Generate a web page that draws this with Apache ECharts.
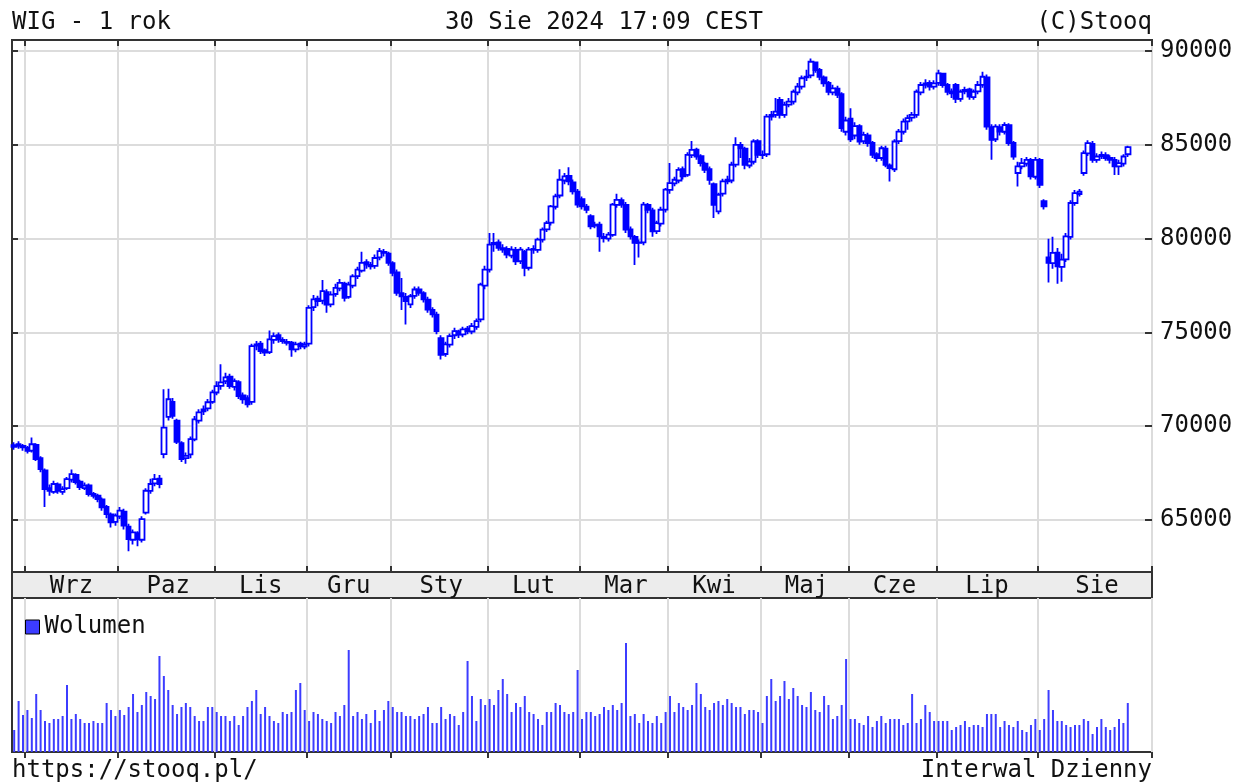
<!DOCTYPE html>
<html>
<head>
<meta charset="utf-8">
<script src="https://cdn.jsdelivr.net/npm/echarts@6/dist/echarts.min.js"></script>
<style>html,body{margin:0;padding:0;background:#fff;}</style>
</head>
<body>
<div id="main" style="width:1249px;height:783px;"></div>
<script>
// WIG - 1 rok, swiece dzienne + wolumen
var monthNames = ['Sty','Lut','Mar','Kwi','Maj','Cze','Lip','Sie','Wrz','Paz','Lis','Gru'];
var holidays = ['2023-11-01','2023-12-25','2023-12-26','2024-01-01','2024-03-29',
  '2024-04-01','2024-05-01','2024-05-03','2024-05-30','2024-08-15'];
var priceTicks = [65000, 70000, 75000, 80000, 85000, 90000];

var opens = [
  68900,69050,68950,68850,68700,69000,68300,67650,66700,66500,
  66900,66500,66700,67150,67400,67050,66700,66850,66400,66300,
  66100,65700,65300,64900,65200,65450,64650,63950,64300,63950,
  65400,66550,66950,67200,68510,70500,71300,70300,69100,68300,
  68500,69300,70300,70800,70950,71300,71800,72150,72400,72650,
  72100,72350,71650,71500,71300,74300,74400,74050,73950,74600,
  74850,74600,74500,74450,74100,74400,74250,74400,76350,76800,
  76700,77150,76500,77050,77350,77600,76900,77500,78000,78300,
  78750,78600,78550,79000,79300,79200,78700,78200,77100,76900,
  76500,76950,77300,77100,76750,76200,75950,74700,73850,74350,
  74850,75050,74900,75200,75050,75300,75700,77500,78350,79700,
  79800,79500,79450,79100,79400,78800,79300,78450,79450,79400,
  79950,80500,80850,81700,82300,83100,83350,83000,82500,82100,
  81700,81200,80700,80750,80100,80000,80200,81800,82050,81800,
  80500,80100,79800,79800,81800,81500,80400,80800,81550,82600,
  82950,83100,83700,83400,84450,84750,84400,84000,83700,82900,
  81450,82400,83050,83100,83950,85000,84800,83900,84100,85200,
  84450,84500,86500,86600,87400,86600,87150,87300,87800,88100,
  88600,88700,89400,89000,88600,88300,87800,88000,87700,85700,
  86400,85500,86000,85200,85500,85100,84500,84300,84800,83900,
  83700,85200,85700,86250,86450,86600,87800,88200,88300,88100,
  88300,88800,88200,87850,88200,87450,87850,87950,87550,87850,
  88200,88600,85950,85300,85950,85700,86050,85100,83500,83850,
  84000,84200,83300,84200,82000,79000,78700,79250,78500,78900,
  80100,81900,82380,83500,84550,85050,84200,84400,84450,84300,
  84200,83850,84000,84500
];
var closes = [
  68990,68950,68880,68690,69040,68250,67710,66650,66560,66920,
  66560,66650,67180,67450,67020,66750,66830,66380,66290,66120,
  65680,65320,64880,65230,65500,64700,63990,64340,63990,65050,
  66560,66920,67180,66920,69930,71440,70550,69170,68250,68420,
  69310,70370,70740,70900,71280,71810,72140,72340,72610,72140,
  72410,71610,71440,71170,74270,74360,74000,73930,74630,74800,
  74630,74540,74450,74100,74360,74270,74360,76310,76760,76670,
  77200,76490,77020,77380,77640,76850,77550,77990,78350,78710,
  78620,78530,78970,79330,79240,78710,78180,77110,76930,76670,
  76930,77290,77110,76760,76220,75960,75070,73800,74360,74800,
  75070,74890,75160,75070,75340,75600,77550,78350,79680,79770,
  79510,79420,79150,79420,78790,79420,78440,79420,79420,79950,
  80480,80830,81720,82250,83140,83320,83050,82520,81810,81720,
  81540,80650,80740,80120,80030,80210,81810,82070,81810,80480,
  80120,79770,79770,81810,81540,80390,80830,81540,82610,82960,
  83140,83670,83320,84470,84730,84380,84030,83670,83140,81800,
  82340,83050,83140,83940,85000,84820,83940,84110,85180,84470,
  84470,86510,86600,86770,86600,87130,87300,87830,88100,88550,
  88630,89430,88990,88630,88280,87830,88010,87660,85900,86300,
  85300,86000,85180,85530,85090,84470,84290,84820,83940,83760,
  85180,85710,86240,86420,86600,87830,88190,88280,88100,88280,
  88810,88190,87830,87750,87450,87830,87930,87570,87830,88190,
  88630,85970,85270,85970,85710,86060,85090,84380,83850,84030,
  84200,83320,84200,82870,81720,78710,79240,78530,78880,80120,
  81900,82430,82500,84560,85090,84200,84380,84470,84290,84200,
  83850,84030,84380,84880
];
var lows = [
  68750,68800,68700,68550,68600,68150,67550,65690,66300,66400,
  66400,66350,66600,67000,66900,66600,66600,66250,66150,65950,
  65500,65100,64600,64700,65050,64500,63330,63700,63600,63800,
  65300,66400,66800,66700,68300,70300,70400,69050,68100,68000,
  68300,69200,70150,70600,70800,71200,71650,71950,72250,72000,
  71900,71450,71200,71000,71150,74050,73850,73750,73850,74400,
  74450,74400,74300,73700,73950,74100,74100,74250,76150,76400,
  76500,76050,76350,76900,77200,76650,76800,77350,77850,78200,
  78400,78350,78400,78850,79050,78550,78000,76950,76200,75430,
  76300,76800,76950,76600,76050,75800,74900,73560,73700,74200,
  74650,74700,74750,74900,74900,75150,75550,77300,78200,79300,
  79350,79250,78950,78950,78600,78650,78000,78300,79200,79250,
  79800,80350,80700,81550,82150,82900,82850,82350,81650,81550,
  81350,80500,80550,79300,79800,79850,80100,81650,81650,80300,
  79950,78600,79000,79650,81350,80100,80250,80650,81400,82400,
  82800,82950,83150,83300,84300,84200,83850,83500,82870,81100,
  81300,82250,82900,82950,83800,84300,83700,83750,83950,84300,
  84250,84350,86300,86450,86400,86450,87000,87150,87650,87950,
  88400,88550,88850,88450,88100,87650,87650,87500,85700,85500,
  85150,85300,85000,85050,84900,84300,84100,84150,83800,83050,
  83550,85050,85550,85800,86250,86450,87650,88000,87900,87950,
  88150,88050,87650,87500,87230,87300,87700,87400,87400,87700,
  88050,85800,84200,85150,85500,85550,84950,84200,82780,83700,
  83850,83150,83150,82700,81550,77660,78400,77600,77700,78750,
  79950,81750,82250,83350,84400,84050,84050,84250,84150,84000,
  83400,83400,83850,84350
];
var highs = [
  69150,69200,69050,68950,69400,69100,68400,67750,66900,67100,
  67000,66800,67300,67700,67500,67150,67000,66950,66500,66400,
  66200,65800,65400,65350,65700,65600,64800,64500,64400,65200,
  66700,67200,67450,67400,71970,72000,71500,70400,69200,68600,
  69450,70550,70900,71100,71450,71950,72400,73300,72850,72800,
  72550,72450,71800,71650,74400,74550,74550,74150,75100,75000,
  75000,74750,74650,74550,74500,74500,74500,76450,77000,76950,
  77800,77300,77200,77600,77850,77700,77700,78100,78500,79300,
  78900,78750,79150,79500,79450,79300,78800,78350,77900,77100,
  77050,77450,77450,77200,76900,76350,76100,74850,74500,74950,
  75250,75150,75300,75350,75500,75750,77650,78550,80300,80300,
  79950,79700,79600,79600,79550,79550,79400,79550,79650,80050,
  80600,80950,81800,82400,83700,83500,83800,83150,82650,82250,
  81850,81300,80900,80900,80300,80350,81900,82400,82200,81950,
  80650,80200,79950,81950,81900,81650,80950,81700,82700,84030,
  83300,83800,83850,84600,85200,84850,84500,84100,83850,83000,
  82450,83200,83350,84100,85400,85150,84900,84300,85300,85300,
  84700,86650,86800,87500,87550,87300,87500,87950,88300,88700,
  89000,89610,89450,89100,88700,88400,88200,88150,87800,86500,
  86950,86200,86100,85700,85650,85200,84600,84950,84950,84000,
  85300,85850,86400,86600,86750,87950,88350,88500,88450,88450,
  89000,88850,88300,88000,88300,87950,88100,88050,87950,88400,
  88900,88750,86100,86100,86100,86200,86150,85200,84100,84300,
  84350,84300,84350,84300,82100,80000,80100,79500,79200,80300,
  82050,82600,82650,84700,85250,85200,84550,84650,84600,84450,
  84350,84200,84500,84950
];
var volumes = [
  22,51,37,42,34,58,42,31,29,33,
  33,36,67,33,38,33,29,29,31,29,
  29,49,42,36,42,37,45,58,40,47,
  60,56,53,96,76,62,47,38,45,49,
  45,36,31,31,45,45,40,36,36,31,
  36,27,36,45,51,62,38,45,36,31,
  29,40,38,40,62,69,42,31,40,38,
  33,31,29,40,36,47,102,36,40,33,
  38,29,42,31,42,51,45,40,40,36,
  36,33,36,38,45,29,29,45,33,38,
  36,27,40,91,56,31,53,47,53,47,
  62,73,58,40,49,45,56,40,38,33,
  27,40,40,49,47,40,38,40,82,33,
  40,40,36,38,45,42,47,42,49,109,
  36,38,29,38,31,29,36,29,40,56,
  40,49,45,42,47,69,58,45,42,49,
  51,47,53,49,45,45,38,42,42,40,
  29,56,73,51,56,71,53,64,56,47,
  45,60,42,40,56,47,33,36,47,93,
  33,33,29,27,36,25,31,36,29,33,
  33,33,27,29,58,29,33,47,40,31,
  31,31,31,22,25,27,31,25,27,27,
  25,38,38,38,25,31,27,25,31,22,
  20,27,33,22,33,62,42,31,31,27,
  25,27,27,33,31,18,25,33,25,22,
  25,33,29,49
];

// kalendarz sesji GPW
function pad2(n) { return n < 10 ? '0' + n : '' + n; }
var dates = [];
var d = new Date(Date.UTC(2023, 7, 29));
var end = new Date(Date.UTC(2024, 7, 30));
while (d <= end) {
  var wd = d.getUTCDay();
  var s = d.getUTCFullYear() + '-' + pad2(d.getUTCMonth() + 1) + '-' + pad2(d.getUTCDate());
  if (wd !== 0 && wd !== 6 && holidays.indexOf(s) < 0) dates.push(s);
  d.setUTCDate(d.getUTCDate() + 1);
}
var cats = dates.slice();
for (var k = 0; k < 5; k++) cats.push('');   // pusty margines po prawej

var monthStart = {};
var starts = [];
for (var i = 1; i < dates.length; i++) {
  if (dates[i].substr(5, 2) !== dates[i - 1].substr(5, 2)) { monthStart[i] = true; starts.push(i); }
}
var labelAt = {};
for (var j = 0; j < starts.length; j++) {
  var a = starts[j], b = j + 1 < starts.length ? starts[j + 1] : cats.length;
  labelAt[Math.floor((a + b) / 2)] = monthNames[parseInt(dates[a].substr(5, 2), 10) - 1];
}

var candles = [];
for (var n = 0; n < closes.length; n++) candles.push([opens[n], closes[n], lows[n], highs[n]]);

var FONT = '"DejaVu Sans Mono", monospace';
var GRID = '#dcdcdc';
var INK = '#333';
var txt = { fontFamily: FONT, fontSize: 24, fontWeight: 'normal', color: '#111' };

var myChart = echarts.init(document.getElementById('main'));
var option = {
  animation: false,
  backgroundColor: '#fff',
  title: [
    { text: 'WIG - 1 rok', left: 7, top: 6, textStyle: txt },
    { text: '30 Sie 2024 17:09 CEST', left: 440, top: 6, textStyle: txt },
    { text: '(C)Stooq', right: 92, top: 6, textStyle: txt },
    { text: 'https://stooq.pl/', left: 7, top: 754, textStyle: txt },
    { text: 'Interwal Dzienny', right: 92, top: 754, textStyle: txt }
  ],
  legend: {
    data: ['Wolumen'], left: 20, top: 610, icon: 'rect', itemWidth: 14, itemHeight: 14, itemGap: 6,
    itemStyle: { borderColor: '#000', borderWidth: 1 },
    textStyle: { fontFamily: FONT, fontSize: 24, color: '#111' }
  },
  graphic: [
    { type: 'rect', z: -10, shape: { x: 12, y: 572, width: 1140, height: 26 },
      style: { fill: '#ececec', stroke: INK, lineWidth: 2 } }
  ],
  grid: [
    { left: 12, right: 97, top: 40, height: 532, show: true, borderColor: INK, borderWidth: 2, backgroundColor: 'transparent' },
    { left: 12, right: 97, top: 598, bottom: 31, show: true, borderColor: INK, borderWidth: 2, backgroundColor: 'transparent' }
  ],
  xAxis: [
    { type: 'category', gridIndex: 0, data: cats, position: 'bottom',
      axisLine: { show: false },
      axisTick: { show: true, inside: true, length: 6, interval: function (idx) { return !!monthStart[idx]; }, lineStyle: { color: INK, width: 2 } },
      axisLabel: { interval: function (idx) { return labelAt[idx] !== undefined; },
        formatter: function (v, idx) { return labelAt[idx] || ''; },
        margin: 3, fontFamily: FONT, fontSize: 24, color: '#111' },
      splitLine: { show: true, interval: function (idx) { return !!monthStart[idx]; }, lineStyle: { color: GRID, width: 2 } } },
    { type: 'category', gridIndex: 0, data: cats, position: 'top',
      axisLine: { show: false }, axisLabel: { show: false }, splitLine: { show: false },
      axisTick: { show: true, inside: true, length: 6, interval: function (idx) { return !!monthStart[idx]; }, lineStyle: { color: INK, width: 2 } } },
    { type: 'category', gridIndex: 1, data: cats, position: 'top',
      axisLine: { show: false }, axisLabel: { show: false },
      axisTick: { show: true, inside: true, length: 6, interval: function (idx) { return !!monthStart[idx]; }, lineStyle: { color: INK, width: 2 } },
      splitLine: { show: true, interval: function (idx) { return !!monthStart[idx]; }, lineStyle: { color: GRID, width: 2 } } }
  ],
  yAxis: [
    { type: 'value', gridIndex: 0, position: 'right', min: 62230, max: 90590, splitNumber: 5,
      axisLine: { show: false },
      axisTick: { show: true, inside: true, length: 7, customValues: priceTicks, lineStyle: { color: INK, width: 2 } },
      axisLabel: { customValues: priceTicks, margin: 8, fontFamily: FONT, fontSize: 24, color: '#111',
        formatter: function (v) { return String(v); } },
      splitLine: { show: true, lineStyle: { color: GRID, width: 2 } } },
    { type: 'value', gridIndex: 0, position: 'left', min: 62230, max: 90590, splitNumber: 5,
      axisLine: { show: false }, axisLabel: { show: false }, splitLine: { show: false },
      axisTick: { show: true, inside: true, length: 6, customValues: priceTicks, lineStyle: { color: INK, width: 2 } } },
    { type: 'value', gridIndex: 1, min: 0, max: 154, show: false, splitLine: { show: false } }
  ],
  series: [
    { name: 'WIG', type: 'candlestick', xAxisIndex: 0, yAxisIndex: 0, data: candles, barWidth: 5,
      itemStyle: { color: '#ffffff', color0: '#0000ff', borderColor: '#0000ff', borderColor0: '#0000ff', borderWidth: 1.8 } },
    { name: 'Wolumen', type: 'bar', xAxisIndex: 2, yAxisIndex: 2, data: volumes, barWidth: 2,
      itemStyle: { color: '#3c3cff' } }
  ]
};
myChart.setOption(option);
</script>
</body>
</html>
